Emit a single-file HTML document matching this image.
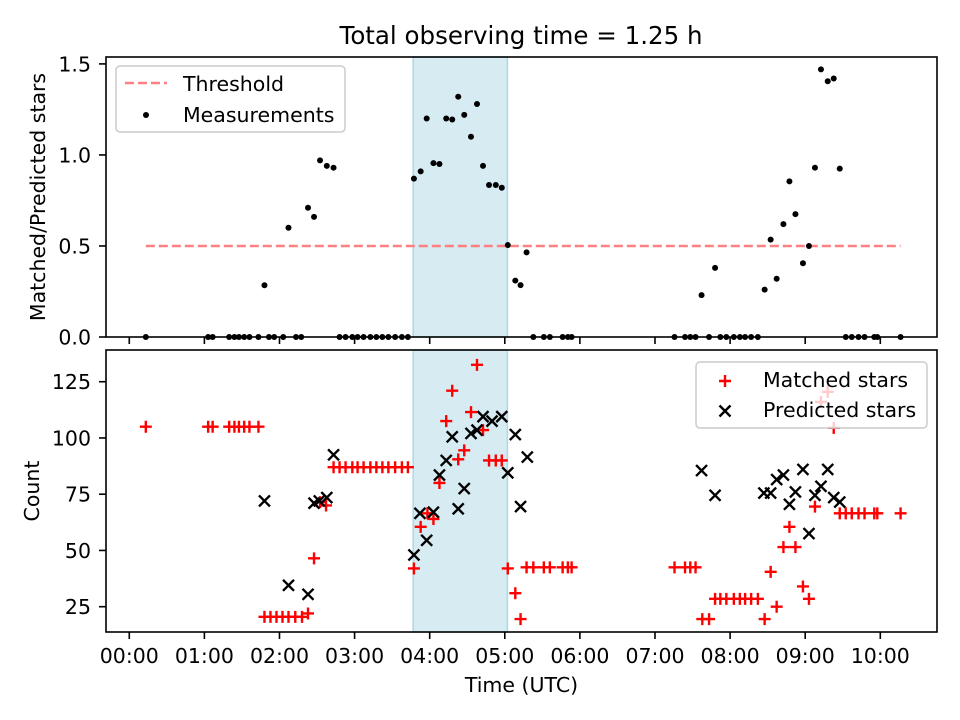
<!DOCTYPE html>
<html><head><meta charset="utf-8"><style>
body{margin:0;background:#fff}
svg{display:block;font-family:"DejaVu Sans","Liberation Sans",sans-serif}
</style></head><body>
<svg id="chart" width="960" height="720" xmlns="http://www.w3.org/2000/svg">
<text x="521" y="44" font-size="24.5" text-anchor="middle">Total observing time = 1.25 h</text>
<g id="topPanel"></g>
<g id="botPanel"></g>
</svg>
<script>
const ratioTimes=[0.22,1.05,1.11,1.33,1.40,1.46,1.53,1.60,1.72,1.80,1.86,1.93,2.05,2.12,2.22,2.29,2.38,2.46,2.54,2.63,2.72,2.80,2.88,2.97,3.04,3.12,3.21,3.29,3.37,3.45,3.54,3.63,3.71,3.79,3.88,3.96,4.05,4.13,4.22,4.30,4.38,4.46,4.55,4.63,4.71,4.79,4.88,4.96,5.04,5.14,5.21,5.29,5.38,5.52,5.60,5.77,5.84,5.89,7.26,7.40,7.47,7.54,7.62,7.72,7.80,7.87,7.95,8.05,8.13,8.20,8.28,8.37,8.46,8.54,8.62,8.71,8.79,8.87,8.97,9.05,9.13,9.21,9.30,9.38,9.46,9.54,9.62,9.71,9.79,9.92,9.96,10.27];
const ratioValues=[0,0,0,0,0,0,0,0,0,0.284,0,0,0,0.60,0,0,0.71,0.66,0.97,0.94,0.93,0,0,0,0,0,0,0,0,0,0,0,0,0.87,0.91,1.20,0.955,0.95,1.20,1.195,1.32,1.22,1.10,1.28,0.94,0.835,0.835,0.82,0.505,0.31,0.285,0.465,0,0,0,0,0,0,0,0,0,0,0.23,0,0.38,0,0,0,0,0,0,0,0.26,0.535,0.32,0.62,0.855,0.675,0.405,0.50,0.93,1.47,1.405,1.42,0.925,0,0,0,0,0,0,0];
const threshold=0.5, thrStart=0.22, thrEnd=10.27;
const spanStart=3.78, spanEnd=5.035;
const matchedTimes=[0.22,1.05,1.11,1.33,1.40,1.46,1.53,1.60,1.72,1.80,1.88,1.96,2.04,2.12,2.21,2.30,2.38,2.46,2.54,2.62,2.72,2.80,2.88,2.97,3.04,3.12,3.21,3.29,3.37,3.45,3.54,3.63,3.71,3.79,3.88,3.97,4.05,4.13,4.22,4.30,4.38,4.46,4.55,4.63,4.71,4.79,4.88,4.96,5.04,5.14,5.21,5.29,5.38,5.52,5.60,5.77,5.84,5.89,7.26,7.40,7.47,7.54,7.63,7.72,7.80,7.87,7.95,8.05,8.13,8.20,8.28,8.37,8.46,8.54,8.62,8.71,8.79,8.87,8.97,9.05,9.13,9.21,9.30,9.38,9.46,9.54,9.62,9.71,9.79,9.92,9.96,10.27];
const matchedValues=[105,105,105,105,105,105,105,105,105,20.5,20.5,20.5,20.5,20.5,20.5,20.5,22,46.5,71.5,70,87,87,87,87,87,87,87,87,87,87,87,87,87,42,60.5,66.5,64,80,107.5,121,90.5,94.5,111.5,132.5,103.5,90,90,90,42,31,19.5,42.5,42.5,42.5,42.5,42.5,42.5,42.5,42.5,42.5,42.5,42.5,19.5,19.5,28.5,28.5,28.5,28.5,28.5,28.5,28.5,28.5,19.5,40.5,25,51.5,60.5,51.5,34,28.5,69.5,116,120.5,104.5,66.5,66.5,66.5,66.5,66.5,66.5,66.5,66.5];
const predictedTimes=[1.80,2.12,2.38,2.46,2.53,2.63,2.72,3.79,3.87,3.96,4.05,4.13,4.22,4.30,4.38,4.46,4.55,4.63,4.71,4.83,4.96,5.04,5.14,5.21,5.30,7.62,7.80,8.45,8.54,8.62,8.71,8.79,8.87,8.97,9.05,9.13,9.21,9.30,9.38,9.46];
const predictedValues=[72,34.5,30.5,71,72,73.5,92.5,48,66.5,54.5,67,83.5,90,100.5,68.5,77.5,102,103.5,109.5,107.5,109.5,84.5,101.5,69.5,91.5,85.5,74.5,75.5,75.5,81.5,83.5,70.5,76,86,57.5,74.5,78.5,86,73.5,71.5];
const xTickLabels=["00:00","01:00","02:00","03:00","04:00","05:00","06:00","07:00","08:00","09:00","10:00"];
const topYTicks=[0,0.5,1.0,1.5];
const topYTickLabels=["0.0","0.5","1.0","1.5"];
const botYTicks=[25,50,75,100,125];

const NS="http://www.w3.org/2000/svg";
const FS=20.5;
const L=106,R=937;
const xMin=-0.31,xMax=10.755;
const X=h=>L+(h-xMin)/(xMax-xMin)*(R-L);
const T1=57,B1=337,T2=350,B2=632;
const yTop=v=>B1-(v/1.538)*(B1-T1);
const bMin=13.75,bMax=139.1;
const yBot=v=>B2-(v-bMin)/(bMax-bMin)*(B2-T2);
function el(tag,attrs,parent){const e=document.createElementNS(NS,tag);for(const k in attrs)e.setAttribute(k,attrs[k]);parent.appendChild(e);return e;}
const topG=document.getElementById('topPanel'),botG=document.getElementById('botPanel');

function frame(g,T,B,name){
  const r=el('rect',{x:L,y:T,width:R-L,height:B-T,fill:'none',stroke:'#000','stroke-width':1.6},g);
  
  
  xTickLabels.forEach((lab,i)=>{
    const t=el('line',{x1:X(i),x2:X(i),y1:B,y2:B+7,stroke:'#000','stroke-width':1.6},g);
    
    
  });
}
function span(g,T,B){
  const s=el('rect',{x:X(spanStart),y:T,width:X(spanEnd)-X(spanStart),height:B-T,fill:'#add8e6','fill-opacity':0.5,stroke:'#add8e6','stroke-width':1.5},g);
  
  
}
// TOP
span(topG,T1,B1);
const thr=el('line',{x1:X(thrStart),x2:X(thrEnd),y1:yTop(threshold),y2:yTop(threshold),stroke:'#ff8080','stroke-width':2.5,'stroke-dasharray':'9,4'},topG);


ratioTimes.forEach((t,i)=>{
  const c=el('circle',{cx:X(t),cy:yTop(ratioValues[i]),r:3,fill:'#000'},topG);
  
  
});
frame(topG,T1,B1,'top-axes');
topYTicks.forEach((v,i)=>{
  el('line',{x1:L-7,x2:L,y1:yTop(v),y2:yTop(v),stroke:'#000','stroke-width':1.6},topG);
  const t=el('text',{x:L-15,y:yTop(v)+7.5,'font-size':FS,'text-anchor':'end'},topG);
  t.textContent=topYTickLabels[i];
  
  
});
const yl1=el('text',{x:0,y:0,'font-size':FS,'text-anchor':'middle',transform:`translate(45,${(T1+B1)/2}) rotate(-90)`},topG);
yl1.textContent='Matched/Predicted stars';


const lg=el('g',{},topG);


el('rect',{x:116,y:66,width:229,height:66,rx:4,fill:'#fff','fill-opacity':0.8,stroke:'#ccc','stroke-width':1.5},lg);
el('line',{x1:125,x2:167,y1:83,y2:83,stroke:'#ff8080','stroke-width':2.5,'stroke-dasharray':'9,4'},lg);
let tx=el('text',{x:183,y:91,'font-size':FS},lg);tx.textContent='Threshold';
el('circle',{cx:146,cy:115,r:3,fill:'#000'},lg);
tx=el('text',{x:183,y:122,'font-size':FS},lg);tx.textContent='Measurements';

// BOTTOM
span(botG,T2,B2);
function plus(g,x,y){return el('path',{d:`M${x-6},${y}H${x+6}M${x},${y-6}V${y+6}`,stroke:'#f00','stroke-width':2.4},g);}
function cross(g,x,y){return el('path',{d:`M${x-5.5},${y-5.5}L${x+5.5},${y+5.5}M${x-5.5},${y+5.5}L${x+5.5},${y-5.5}`,stroke:'#000','stroke-width':2.4},g);}
matchedTimes.forEach((tt,i)=>{
  const p=plus(botG,X(tt),yBot(matchedValues[i]));
  
  
});
predictedTimes.forEach((tt,i)=>{
  const p=cross(botG,X(tt),yBot(predictedValues[i]));
  
  
});
frame(botG,T2,B2,'bottom-axes');
botYTicks.forEach(v=>{
  el('line',{x1:L-7,x2:L,y1:yBot(v),y2:yBot(v),stroke:'#000','stroke-width':1.6},botG);
  const t=el('text',{x:L-15,y:yBot(v)+7.5,'font-size':FS,'text-anchor':'end'},botG);
  t.textContent=String(v);
  
  
});
xTickLabels.forEach((lab,i)=>{
  const t=el('text',{x:X(i),y:B2+31,'font-size':FS,'text-anchor':'middle'},botG);
  t.textContent=lab;
  
  
});
const xl=el('text',{x:(L+R)/2,y:692,'font-size':FS,'text-anchor':'middle'},botG);
xl.textContent='Time (UTC)';


const yl2=el('text',{x:0,y:0,'font-size':FS,'text-anchor':'middle',transform:`translate(39,${(T2+B2)/2}) rotate(-90)`},botG);
yl2.textContent='Count';


const lg2=el('g',{},botG);


el('rect',{x:696,y:362,width:231,height:66,rx:4,fill:'#fff','fill-opacity':0.8,stroke:'#ccc','stroke-width':1.5},lg2);
plus(lg2,725,381);
tx=el('text',{x:763,y:387,'font-size':FS},lg2);tx.textContent='Matched stars';
cross(lg2,725,411);
tx=el('text',{x:763,y:417,'font-size':FS},lg2);tx.textContent='Predicted stars';
</script>
</body></html>
